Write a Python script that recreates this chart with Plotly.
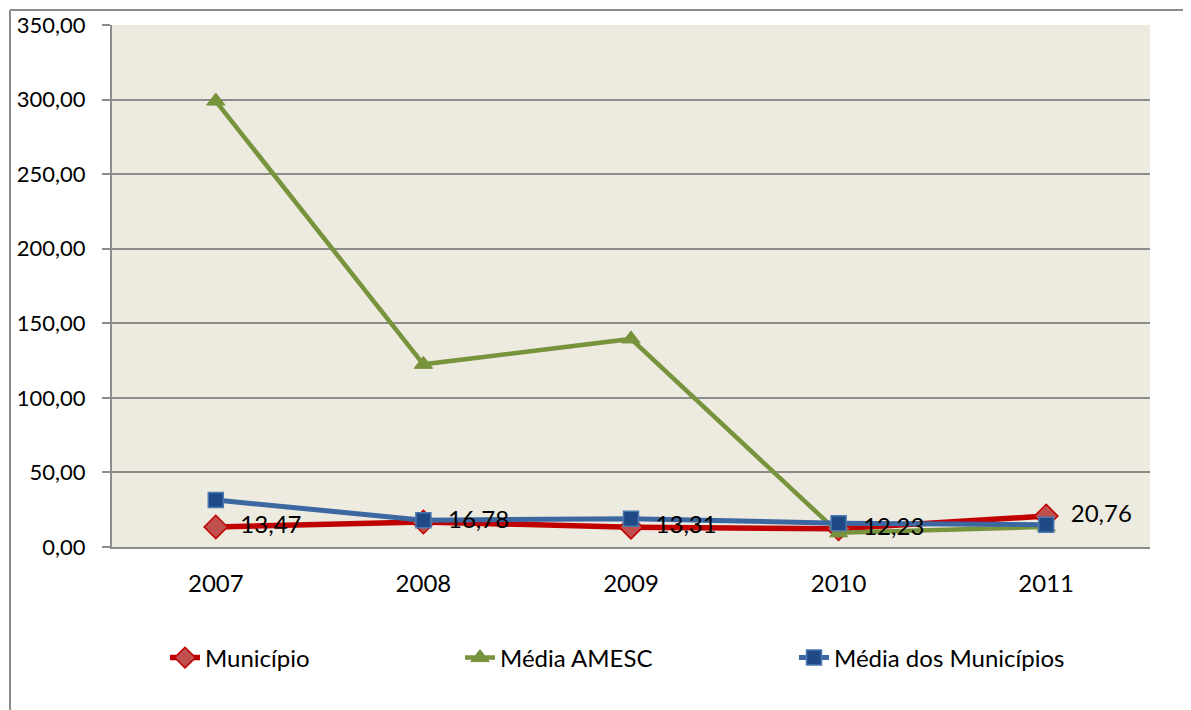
import plotly.graph_objects as go

years = ["2007", "2008", "2009", "2010", "2011"]
municipio = [13.47, 16.78, 13.31, 12.23, 20.76]
media_amesc = [299.0, 122.5, 139.5, 9.5, 13.5]
media_municipios = [31.5, 18.0, 19.0, 16.0, 15.0]
y_ticks = [0, 50, 100, 150, 200, 250, 300, 350]

OFF = 8  # page body margin
W, H = 1191 - OFF, 710 - OFF
# plot area in screenshot pixels: x 112..1150, y 25..547
L, T = 112 - OFF, 25 - OFF
R = W - (1150 - OFF)
B = H - (547 - OFF)
pw, ph = W - L - R, H - T - B

def px(x):
    return (x - OFF - L) / pw

def py(y):
    return (H - B - (y - OFF)) / ph

FONT = "Lato"
label_text = ["    " + f"{v:.2f}".replace(".", ",") for v in municipio]

fig = go.Figure()
fig.add_trace(go.Scatter(
    x=years, y=municipio, mode="lines+markers", name="Município",
    line=dict(color="#C00000", width=5.5),
    marker=dict(symbol="diamond", size=18, color="#C0504D", line=dict(color="#C00000", width=1.5)),
    legend="legend",
))
fig.add_trace(go.Scatter(
    x=years, y=media_amesc, mode="lines+markers", name="Média AMESC",
    line=dict(color="#77933C", width=4.5),
    marker=dict(symbol="triangle-up", size=16, color="#77933C", line=dict(color="#77933C", width=1)),
    legend="legend2",
))
fig.add_trace(go.Scatter(
    x=years, y=media_municipios, mode="lines+markers", name="Média dos Municípios",
    line=dict(color="#3C67A0", width=5),
    marker=dict(symbol="square", size=15, color="#204A85", line=dict(color="#4A78B0", width=1.5)),
    legend="legend3",
))
fig.add_trace(go.Scatter(
    x=years, y=municipio, mode="text", text=label_text, textposition="middle right",
    textfont=dict(family=FONT, size=24, color="#000000"), showlegend=False, hoverinfo="skip",
))

border = "#8C8C8C"
shapes = [
    dict(type="line", xref="paper", yref="paper", x0=px(10), x1=px(10), y0=py(720), y1=py(10),
         line=dict(color=border, width=2)),
    dict(type="line", xref="paper", yref="paper", x0=px(10), x1=px(1200), y0=py(10), y1=py(10),
         line=dict(color=border, width=2)),
]

legend_common = dict(orientation="h", yanchor="middle", xanchor="left", bgcolor="rgba(0,0,0,0)",
                     font=dict(family=FONT, size=24, color="#000000"), itemwidth=30)

fig.update_layout(
    width=W, height=H,
    margin=dict(l=L, r=R, t=T, b=B, autoexpand=False),
    paper_bgcolor="#FFFFFF", plot_bgcolor="#EDEADF",
    separators=",.",
    shapes=shapes,
    legend=dict(x=px(165), y=py(658), **legend_common),
    legend2=dict(x=px(460), y=py(658), **legend_common),
    legend3=dict(x=px(794), y=py(658), **legend_common),
    xaxis=dict(type="category", range=[-0.5, 4.5], showline=True, linecolor="#8C8C8C", linewidth=2,
               showgrid=False, ticks="", tickfont=dict(family=FONT, size=24, color="#000000"),
               ticklabelstandoff=14, zeroline=False),
    yaxis=dict(range=[0, 350], tickvals=y_ticks, tickformat=".2f", showline=True, linecolor="#8C8C8C",
               linewidth=2, showgrid=True, gridcolor="#8C8C8C", gridwidth=1.5, ticks="outside",
               ticklen=8, tickcolor="#8C8C8C", tickwidth=1.5, zeroline=False, ticklabelstandoff=12,
               tickfont=dict(family=FONT, size=22, color="#000000")),
)

fig.write_html("out.html")
